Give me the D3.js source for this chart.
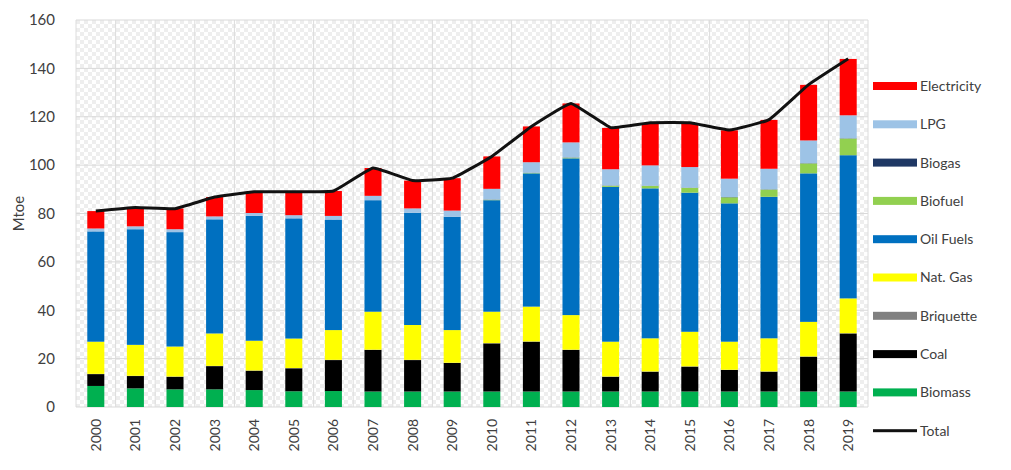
<!DOCTYPE html>
<meta charset="utf-8">
<script src="https://cdn.jsdelivr.net/npm/d3@7"></script>
<style>
  body { margin: 0; background: #fff; }
  text { font-family: Lato, "Open Sans", sans-serif; fill: #404040; }
</style>
<body>
<script>

// values in Mtoe
var years = ["2000","2001","2002","2003","2004","2005","2006","2007","2008","2009",
             "2010","2011","2012","2013","2014","2015","2016","2017","2018","2019"];
var biomass     = [8.7, 7.7, 7.3, 7.3, 7.0, 6.5, 6.6, 6.4, 6.4, 6.4, 6.4, 6.4, 6.4, 6.4, 6.4, 6.4, 6.4, 6.4, 6.4, 6.4];
var coal        = [4.9, 5.1, 5.2, 9.6, 8.0, 9.5, 12.8, 17.2, 13.0, 11.8, 19.9, 20.6, 17.2, 6.1, 8.2, 10.3, 8.9, 8.2, 14.4, 24.0];
var briquette   = [0.1, 0.1, 0.1, 0.1, 0.1, 0.1, 0.1, 0.1, 0.1, 0.1, 0.1, 0.1, 0.1, 0.1, 0.1, 0.1, 0.1, 0.1, 0.1, 0.1];
var natGas      = [13.3, 12.8, 12.4, 13.4, 12.3, 12.2, 12.3, 15.7, 14.4, 13.5, 13.0, 14.4, 14.3, 14.4, 13.7, 14.3, 11.6, 13.7, 14.3, 14.4];
var oilFuels    = [45.6, 47.8, 47.3, 47.2, 51.6, 49.7, 45.7, 46.1, 46.4, 46.8, 46.1, 55.1, 64.8, 64.0, 62.0, 57.5, 57.2, 58.5, 61.4, 59.2];
var biofuel     = [0, 0, 0, 0, 0, 0, 0, 0, 0, 0, 0.2, 0.2, 0.3, 0.5, 1.0, 2.0, 2.5, 3.0, 4.1, 6.9];
var biogas      = [0, 0, 0, 0, 0, 0, 0, 0, 0, 0, 0.1, 0.1, 0.1, 0.1, 0.1, 0.1, 0.1, 0.1, 0.1, 0.1];
var lpg         = [1.2, 1.2, 1.2, 1.2, 1.2, 1.3, 1.5, 1.8, 1.8, 2.6, 4.4, 4.3, 6.2, 6.7, 8.4, 8.5, 7.6, 8.5, 9.4, 9.5];
var electricity = [7.2, 7.7, 8.6, 8.0, 8.8, 9.7, 10.3, 11.5, 11.5, 13.4, 13.4, 14.8, 16.1, 17.1, 17.5, 18.2, 20.0, 20.2, 23.0, 23.3];
var total       = [81.0, 82.5, 82.0, 86.8, 89.0, 89.0, 89.3, 98.8, 93.6, 94.6, 103.6, 116.0, 125.5, 115.5, 117.5, 117.5, 114.5, 118.8, 133.3, 144.0];

var yTicks = [0, 20, 40, 60, 80, 100, 120, 140, 160];

// stacking order bottom -> top
var series = [
  {key: "Biomass",     values: biomass,     color: "#00b050"},
  {key: "Coal",        values: coal,        color: "#000000"},
  {key: "Briquette",   values: briquette,   color: "#808080"},
  {key: "Nat. Gas",    values: natGas,      color: "#ffff00"},
  {key: "Oil Fuels",   values: oilFuels,    color: "#0070c0"},
  {key: "Biofuel",     values: biofuel,     color: "#92d050"},
  {key: "Biogas",      values: biogas,      color: "#1f3864"},
  {key: "LPG",         values: lpg,         color: "#9dc3e6"},
  {key: "Electricity", values: electricity, color: "#ff0000"}
];

var W = 1011, H = 470;
var margin = {left: 76, top: 20, right: 143, bottom: 63};
var pw = W - margin.left - margin.right, ph = H - margin.top - margin.bottom;

var svg = d3.select("body").append("svg").attr("width", W).attr("height", H);

// checker pattern behind the plot
var defs = svg.append("defs");
var pat = defs.append("pattern").attr("id", "chk").attr("width", 8).attr("height", 8)
  .attr("patternUnits", "userSpaceOnUse");
pat.append("rect").attr("width", 8).attr("height", 8).attr("fill", "#ffffff");
pat.append("rect").attr("width", 4).attr("height", 4).attr("fill", "#eeeeee");
pat.append("rect").attr("x", 4).attr("y", 4).attr("width", 4).attr("height", 4).attr("fill", "#eeeeee");

var g = svg.append("g").attr("transform", "translate(" + margin.left + "," + margin.top + ")");

var x = d3.scaleBand().domain(years).range([0, pw]).paddingInner(0.57).paddingOuter(0.285);
var y = d3.scaleLinear().domain([0, 160]).range([ph, 0]);

g.append("rect").attr("width", pw).attr("height", ph).attr("fill", "url(#chk)");

// horizontal grid
g.selectAll(".hgrid").data(yTicks).enter().append("line")
  .attr("x1", 0).attr("x2", pw)
  .attr("y1", d => y(d)).attr("y2", d => y(d))
  .attr("stroke", "#d9d9d9").attr("stroke-width", 1);

// vertical grid between categories
var step = x.step();
g.selectAll(".vgrid").data(d3.range(years.length + 1)).enter().append("line")
  .attr("x1", d => d * step).attr("x2", d => d * step)
  .attr("y1", 0).attr("y2", ph)
  .attr("stroke", "#dcdcdc").attr("stroke-width", 1);

// stacked bars
var rows = years.map(function(yr, i) {
  var r = {year: yr};
  series.forEach(s => { r[s.key] = s.values[i]; });
  return r;
});
var stack = d3.stack().keys(series.map(s => s.key))(rows);

g.selectAll(".layer").data(stack).enter().append("g")
  .attr("fill", (d, i) => series[i].color)
  .selectAll("rect").data(d => d).enter().append("rect")
  .attr("x", d => x(d.data.year))
  .attr("width", x.bandwidth())
  .attr("y", d => y(d[1]))
  .attr("height", d => Math.max(0, y(d[0]) - y(d[1])));

// total line
var line = d3.line()
  .x((d, i) => x(years[i]) + x.bandwidth() / 2)
  .y(d => y(d))
  .curve(d3.curveCardinal.tension(0.7));
g.append("path").datum(total).attr("d", line)
  .attr("fill", "none").attr("stroke", "#111").attr("stroke-width", 3);

// y axis labels
g.selectAll(".ytick").data(yTicks).enter().append("text")
  .attr("x", -21).attr("y", d => y(d)).attr("dy", "0.35em")
  .attr("text-anchor", "end").style("font-size", "15px")
  .text(d => d);

svg.append("text")
  .attr("transform", "translate(24," + (margin.top + ph / 2) + ") rotate(-90)")
  .attr("text-anchor", "middle").style("font-size", "15px")
  .text("Mtoe");

// x axis labels, rotated
g.selectAll(".xtick").data(years).enter().append("text")
  .attr("transform", d => "translate(" + (x(d) + x.bandwidth() / 2) + "," + (ph + 12) + ") rotate(-90)")
  .attr("text-anchor", "end").attr("dy", "0.35em").style("font-size", "14px")
  .text(d => d);

// legend, top -> bottom
var legendItems = series.slice().reverse().concat([{key: "Total", color: "#111", line: true}]);
var lg = svg.append("g").attr("transform", "translate(873,86)");
var li = lg.selectAll("g").data(legendItems).enter().append("g")
  .attr("transform", (d, i) => "translate(0," + i * 38.3 + ")");
li.append("rect")
  .attr("x", 0).attr("width", 44)
  .attr("y", d => d.line ? -1.5 : -4)
  .attr("height", d => d.line ? 3 : 8)
  .attr("fill", d => d.color);
li.append("text").attr("x", 47).attr("dy", "0.35em")
  .style("font-size", "14px").text(d => d.key);

</script>
</body>
